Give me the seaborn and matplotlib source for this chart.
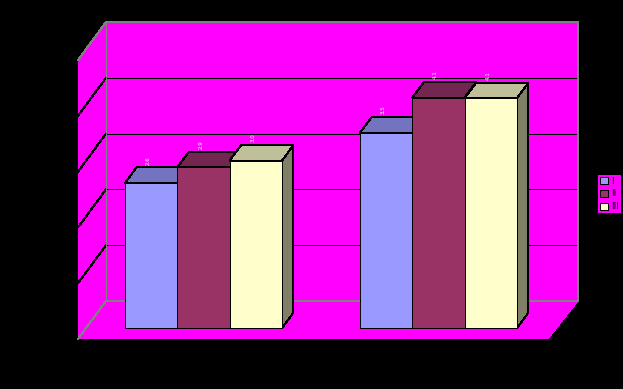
import pandas as pd
import matplotlib.pyplot as plt
from matplotlib.patches import Polygon
import seaborn as sns

# values
groups = ['1', '2']
series = ['I', 'II', 'III']
values_1 = [2.6, 3.5]
values_2 = [2.88, 4.13]
values_3 = [3.0, 4.12]
grid_ticks = [1, 2, 3, 4]

front_colors = ['#9999FF', '#993366', '#FFFFCC']
top_colors = ['#7373BF', '#732650', '#BFBF99']
side_colors = ['#606099', '#5C1F3D', '#808066']
WALL = '#FF00FF'
EDGE = '#808080'

rows = []
for name, vals in zip(series, [values_1, values_2, values_3]):
    for g, v in zip(groups, vals):
        rows.append({'group': g, 'series': name, 'value': v})
data = pd.DataFrame(rows)

sns.set_style('white')
plt.rcParams['font.family'] = ['DejaVu Sans']
# the reference has hard, jagged pixels
plt.rcParams['patch.antialiased'] = False
plt.rcParams['lines.antialiased'] = False

W, H = 623, 389
LW = 0.72
fig = plt.figure(figsize=(W / 100, H / 100), dpi=100, facecolor='black')

# walls and floor, drawn in pixels on a full size axes
bg = fig.add_axes([0, 0, 1, 1])
bg.set_xlim(0, W)
bg.set_ylim(H, 0)
bg.axis('off')
bg.add_patch(Polygon([(106, 22), (578, 22), (578, 301), (106, 301)], fc=WALL, ec='none'))
bg.add_patch(Polygon([(78, 60), (106, 22), (106, 301), (78, 339)], fc=WALL, ec='none'))
bg.add_patch(Polygon([(78, 339), (106, 301), (578, 301), (548, 339)], fc=WALL, ec='none'))
UNIT = 55.8
for t in grid_ticks:
    y = 301 - UNIT * t
    bg.plot([106, 578], [y, y], color='black', lw=LW)
    bg.plot([78, 106], [y + 38, y], color='black', lw=LW)
bg.plot([78, 106, 578, 578], [60, 22, 22, 301], color=EDGE, lw=LW)
bg.plot([106, 106], [22, 301], color=EDGE, lw=LW)
bg.plot([78, 106, 578], [339, 301, 301], color=EDGE, lw=LW)

# bars: one category is 235 px wide, one value unit is 55.8 px high
ax = fig.add_axes([86 / W, 1 - 328 / H, 470 / W, 5 * UNIT / H])
ax.patch.set_alpha(0)
sns.barplot(data=data, x='group', y='value', hue='series', hue_order=series,
            palette=front_colors, width=0.668, gap=0, saturation=1,
            edgecolor='black', linewidth=LW, ax=ax)
ax.set_xlim(-0.5, 1.5)
ax.set_ylim(0, 5)

handles, labels = ax.get_legend_handles_labels()
leg = ax.legend(handles, labels, loc='center', bbox_to_anchor=(609.5 / W, 1 - 194 / H),
                bbox_transform=fig.transFigure, fontsize=6.5, labelcolor='black',
                facecolor=WALL, edgecolor=WALL, frameon=True, fancybox=False, framealpha=1,
                handlelength=0.85, handleheight=0.85, handletextpad=0.3, labelspacing=0.42,
                borderpad=0.22, borderaxespad=0)
leg.get_frame().set_linewidth(0)
ax.axis('off')

# depth faces and the tiny value labels
dx = 11.5 / 235
dy = 15.5 / UNIT
bars = [b for b in ax.patches if b.get_height() > 0]
ordered = sorted(bars, key=lambda b: b.get_x())
for i, b in enumerate(ordered):
    x0, x1, h = b.get_x(), b.get_x() + b.get_width(), b.get_height()
    k = i % 3
    ax.add_patch(Polygon([(x0, h), (x1, h), (x1 + dx, h + dy), (x0 + dx, h + dy)],
                         fc=top_colors[k], ec='black', lw=LW, zorder=3 + i, clip_on=False))
    ax.add_patch(Polygon([(x1, 0), (x1 + dx, dy), (x1 + dx, h + dy), (x1, h)],
                         fc=side_colors[k], ec='black', lw=LW, zorder=3 + i, clip_on=False))
    b.set_zorder(20)
    b.set_clip_on(False)
    ax.text((x0 + x1) / 2 - 0.012, h + dy + 0.05, f'{h:.1f}', rotation=90, fontsize=4,
            color='white', ha='center', va='bottom', zorder=30)

plt.savefig('out.png', dpi=100, facecolor='black')
